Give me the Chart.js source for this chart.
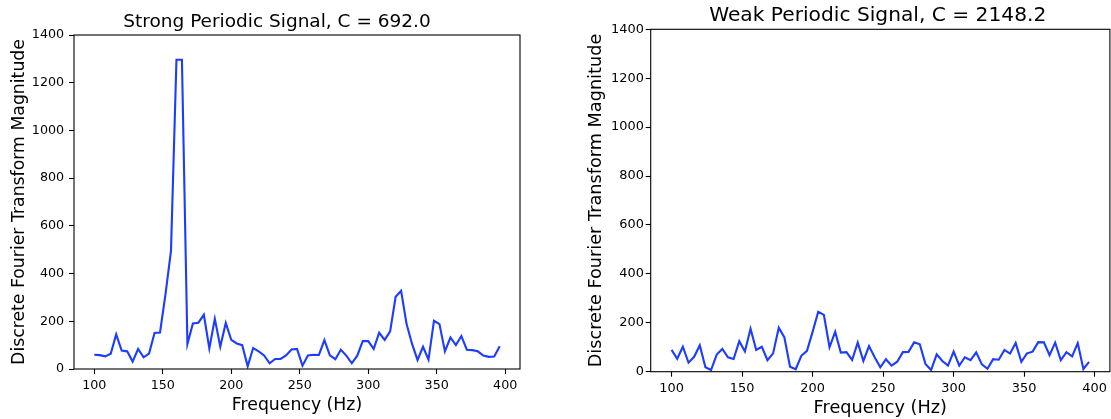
<!DOCTYPE html>
<html>
<head>
<meta charset="utf-8">
<script src="https://cdn.jsdelivr.net/npm/chart.js@4"></script>
<style>
  body { margin: 0; background: #fff; }
  #wrap { position: relative; width: 1111px; height: 419px; overflow: hidden; }
  canvas { position: absolute; top: 0; }
</style>
</head>
<body>
<div id="wrap">
  <canvas id="strong" width="554" height="419" style="left:0px"></canvas>
  <canvas id="weak" width="551" height="419" style="left:560px"></canvas>
</div>
<script>
// frequency bins (Hz)
const freqs = [];
for (let f = 100; f <= 396; f += 4) freqs.push(f);

// DFT magnitudes
const strongVals = [60, 58, 53, 64, 145, 77, 74, 31, 84, 49, 65, 151, 153, 314, 495, 1296, 1296, 105, 191, 194,
  227, 86, 210, 93, 193, 122, 107, 100, 11, 88, 74, 57, 24, 42, 42, 57, 82, 84, 14, 57,
  60, 59, 121, 57, 41, 81, 56, 24, 56, 117, 117, 84, 152, 122, 158, 303, 328, 188, 105, 38,
  93, 39, 202, 188, 74, 132, 100, 138, 81, 79, 74, 56, 51, 52, 95];
const weakVals = [89, 53, 102, 37, 61, 108, 18, 7, 70, 93, 59, 52, 125, 83, 176, 89, 102, 47, 75, 180,
  140, 20, 10, 65, 85, 163, 245, 232, 100, 163, 78, 80, 48, 119, 44, 105, 59, 18, 51, 25,
  41, 80, 81, 120, 112, 32, 7, 71, 44, 25, 82, 25, 59, 47, 79, 30, 12, 51, 49, 89,
  74, 117, 40, 75, 82, 121, 120, 68, 119, 47, 80, 63, 117, 11, 40];

const xTicks = [100, 150, 200, 250, 300, 350, 400];
const titles = ['Strong Periodic Signal, C = 692.0', 'Weak Periodic Signal, C = 2148.2'];

Chart.defaults.font.family = 'DejaVu Sans';
Chart.defaults.color = '#000';

// matplotlib style box around the plot area + panel title
const spines = {
  id: 'spines',
  afterDraw(chart, args, opts) {
    const a = chart.chartArea, ctx = chart.ctx;
    ctx.save();
    ctx.strokeStyle = '#000';
    ctx.lineWidth = 1.1;
    ctx.strokeRect(a.left, a.top, a.right - a.left, a.bottom - a.top);
    // title is not centred on the axes in the original, so place it by hand
    ctx.fillStyle = '#000';
    ctx.font = opts.size + 'px "DejaVu Sans"';
    ctx.textAlign = 'center';
    ctx.textBaseline = 'alphabetic';
    ctx.fillText(opts.text, opts.x, opts.y);
    ctx.restore();
  }
};

function makeChart(id, vals, s) {
  return new Chart(document.getElementById(id), {
    type: 'line',
    data: {
      datasets: [{
        data: freqs.map((f, i) => ({ x: f, y: vals[i] })),
        borderColor: '#1c3cff',
        borderWidth: 2.1,
        pointRadius: 0,
        tension: 0,
        fill: false
      }]
    },
    options: {
      responsive: false,
      animation: false,
      layout: { padding: { left: 0, right: s.padRight, top: s.padTop, bottom: 0 } },
      plugins: {
        legend: { display: false },
        tooltip: { enabled: false },
        title: { display: false },
        spines: { text: s.title, size: s.titleSize, x: s.titleX, y: s.titleY }
      },
      scales: {
        x: {
          type: 'linear',
          min: 85.2,
          max: 410.8,
          afterBuildTicks: ax => { ax.ticks = xTicks.map(v => ({ value: v })); },
          afterFit: sc => { sc.height = s.xHeight; },
          border: { display: false },
          grid: { drawOnChartArea: false, drawTicks: true, tickLength: 5, tickWidth: 1.1, tickColor: '#000' },
          ticks: { padding: 4, maxRotation: 0, font: { size: s.tickSize }, color: '#000', callback: v => String(v) },
          title: { display: true, text: 'Frequency (Hz)', font: { size: s.labelSize }, padding: { top: 0, bottom: s.xTitlePad }, color: '#000' }
        },
        y: {
          min: 0,
          max: 1400,
          afterFit: sc => { sc.width = s.yWidth; },
          border: { display: false },
          grid: { drawOnChartArea: false, drawTicks: true, tickLength: 5, tickWidth: 1.1, tickColor: '#000' },
          ticks: { stepSize: 200, padding: s.yTickPad, font: { size: s.tickSize }, color: '#000', callback: v => String(v) },
          title: { display: true, text: 'Discrete Fourier Transform Magnitude', font: { size: s.labelSize }, padding: { top: s.yTitlePad, bottom: 0 }, color: '#000' }
        }
      }
    },
    plugins: [spines]
  });
}

makeChart('strong', strongVals, {
  title: titles[0], titleSize: 18.5, titleX: 277, titleY: 26.5, padTop: 35,
  padRight: 34, xHeight: 50, yWidth: 74, tickSize: 12.7, labelSize: 17.3, xTitlePad: 3.2, yTitlePad: 9.5, yTickPad: 4.9
});
makeChart('weak', weakVals, {
  title: titles[1], titleSize: 20.2, titleX: 317.7, titleY: 21.3, padTop: 29.3,
  padRight: 0.7, xHeight: 47.3, yWidth: 90.7, tickSize: 12.9, labelSize: 17.7, xTitlePad: 0, yTitlePad: 26.1, yTickPad: 1.8
});
</script>
</body>
</html>
